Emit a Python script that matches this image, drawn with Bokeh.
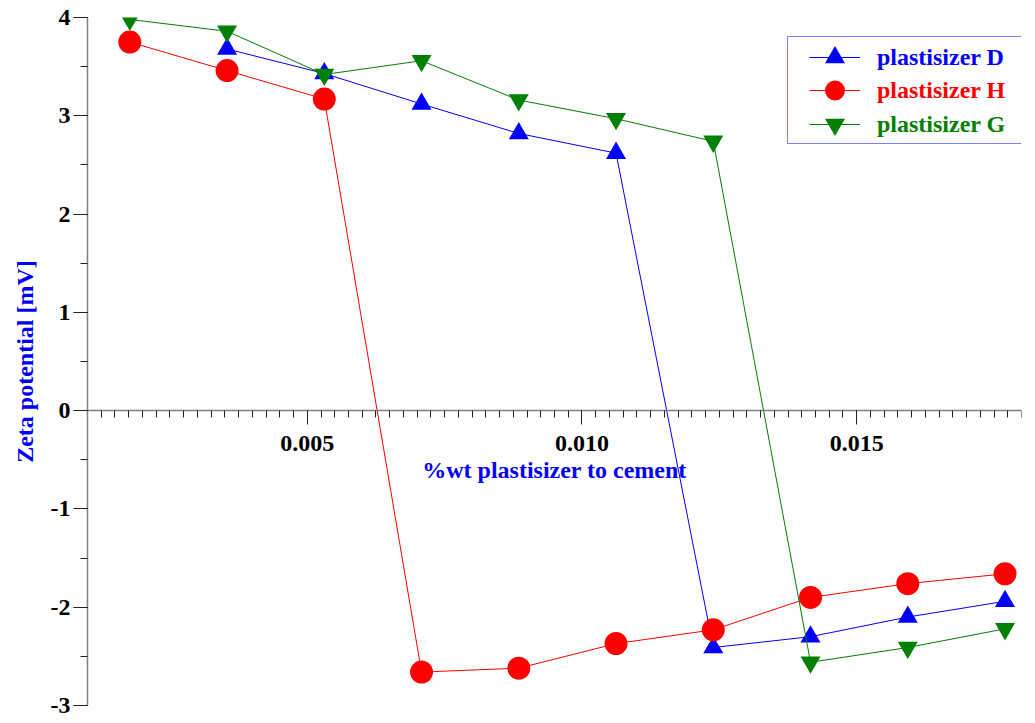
from bokeh.plotting import figure
from bokeh.models import Range1d, SingleIntervalTicker, PrintfTickFormatter, Legend, LegendItem
from bokeh.embed import file_html
from bokeh.resources import INLINE

# data
x_all = [0.00177, 0.00354, 0.00531, 0.00708, 0.00885, 0.01062, 0.01239, 0.01416, 0.01593, 0.0177]
x_D = x_all[1:]
y_D = [3.68, 3.43, 3.12, 2.82, 2.62, -2.41, -2.30, -2.10, -1.94]
x_H = x_all
y_H = [3.75, 3.46, 3.17, -2.66, -2.62, -2.37, -2.23, -1.90, -1.76, -1.66]
x_G = x_all
y_G = [3.98, 3.86, 3.42, 3.56, 3.16, 2.97, 2.74, -2.56, -2.41, -2.22]
labels = ["plastisizer D", "plastisizer H", "plastisizer G"]
colors = ["#0000ff", "#ff0000", "#008000"]

FONT = "Liberation Serif"

p = figure(width=1025, height=717, output_backend="svg", toolbar_location=None,
           x_range=Range1d(0.001, 0.018), y_range=Range1d(-3, 4),
           min_border_left=87, min_border_right=4, min_border_top=17, min_border_bottom=12)
p.outline_line_color = None
p.grid.visible = False
p.background_fill_color = "white"
p.border_fill_color = "white"

xa = p.xaxis[0]
xa.fixed_location = 0
xa.ticker = SingleIntervalTicker(interval=0.005, num_minor_ticks=20)
xa.formatter = PrintfTickFormatter(format="%.3f")
ya = p.yaxis[0]
ya.ticker = SingleIntervalTicker(interval=1, num_minor_ticks=2)
ya.formatter = PrintfTickFormatter(format="%d")

for ax in (xa, ya):
    ax.axis_line_color = "#808080"
    ax.axis_line_width = 1.5
    ax.major_tick_line_color = "#222222"
    ax.minor_tick_line_color = "#222222"
    ax.major_tick_in = 0
    ax.major_tick_out = 14
    ax.minor_tick_in = 0
    ax.minor_tick_out = 7
    ax.major_label_text_font = FONT
    ax.major_label_text_font_style = "bold"
    ax.major_label_text_font_size = "24px"
    ax.major_label_text_color = "black"
    ax.axis_label_text_font = FONT
    ax.axis_label_text_font_style = "bold"
    ax.axis_label_text_font_size = "24px"
    ax.axis_label_text_color = "#0000ff"

xa.axis_label = "%wt plastisizer to cement"
xa.axis_label_standoff = 3
xa.major_label_standoff = 11
ya.axis_label = "Zeta potential [mV]"
ya.axis_label_standoff = 10
ya.major_label_standoff = 3

lD = p.line(x_D, y_D, line_color=colors[0], line_width=1)
mD = p.scatter(x_D, y_D, marker="triangle", size=20, fill_color=colors[0], line_color=None)
lH = p.line(x_H, y_H, line_color=colors[1], line_width=1)
mH = p.scatter(x_H, y_H, marker="circle", size=23, fill_color=colors[1], line_color=None)
lG = p.line(x_G, y_G, line_color=colors[2], line_width=1)
mG = p.scatter(x_G, y_G, marker="inverted_triangle", size=20, fill_color=colors[2], line_color=None)

renderers = [[lD, mD], [lH, mH], [lG, mG]]

# legend frame (box only)
dummy = p.line([], [], line_alpha=0)
box = Legend(items=[LegendItem(label=" ", renderers=[dummy])],
             location=(700, 561), margin=0, padding=0, spacing=0,
             glyph_width=232, glyph_height=106, label_height=106, label_standoff=0,
             label_text_font_size="24px", label_text_alpha=0,
             border_line_color="#0000ff", border_line_width=1.5,
             background_fill_color="white", background_fill_alpha=1)
p.add_layout(box, "center")

# legend entries, one per series, with coloured text
row_y = [623, 590, 556]
for i in range(3):
    lg = Legend(items=[LegendItem(label=labels[i], renderers=renderers[i])],
                location=(722, row_y[i]), margin=0, padding=0, spacing=0,
                glyph_width=51, glyph_height=50, label_height=50, label_standoff=17,
                border_line_color=None, background_fill_alpha=0,
                label_text_font=FONT, label_text_font_style="bold",
                label_text_font_size="24px", label_text_color=colors[i])
    p.add_layout(lg, "center")

out = file_html(p, INLINE)
open("out.html", "w").write(out)
